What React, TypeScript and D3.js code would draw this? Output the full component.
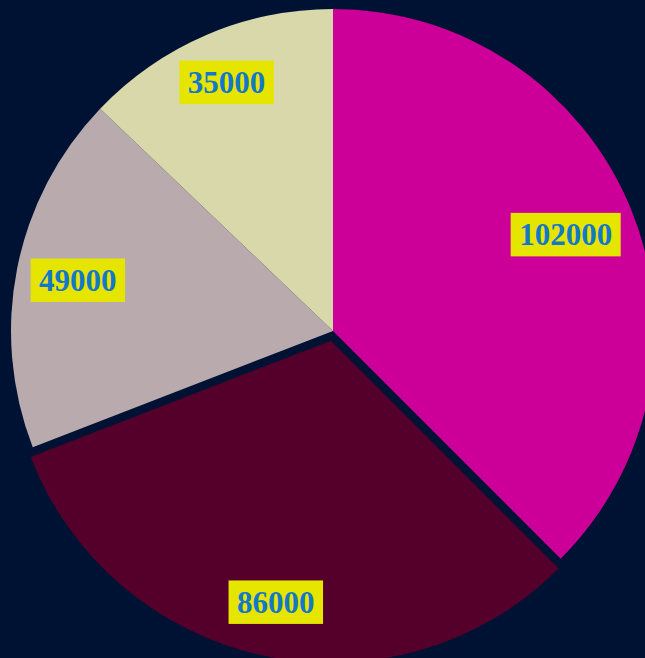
import React from "react";
import * as d3 from "d3";

const labels = ["A", "B", "C", "D"];
const values = [102000, 86000, 49000, 35000];
const colors = ["#cc0099", "#55002b", "#b9abad", "#d9d8ab"];
const exploded = [false, true, false, false];

const W = 645;
const H = 658;
const cx = 333;
const cy = 331;
const R = 322;
const labelInset = 11;
const explodeOffset = 10;

function placeLabel(ox: number, oy: number, ux: number, uy: number, bw: number, bh: number, lim: number) {
  let lo = 0;
  let hi = lim;
  for (let k = 0; k < 40; k++) {
    const t = (lo + hi) / 2;
    const px = ox + ux * t;
    const py = oy + uy * t;
    let m = 0;
    for (const sx of [-1, 1]) {
      for (const sy of [-1, 1]) {
        const d = Math.hypot(px + (sx * bw) / 2, py + (sy * bh) / 2);
        if (d > m) m = d;
      }
    }
    if (m > lim) hi = t;
    else lo = t;
  }
  return [ox + ux * lo, oy + uy * lo];
}

export default function App() {
  const pie = d3.pie<number>().sort(null).value((d) => d);
  const arcs = pie(values);
  const arcGen = d3.arc<d3.PieArcDatum<number>>().innerRadius(0).outerRadius(R);
  const fontSize = 31;
  const charW = fontSize * 0.5;
  return (
    <svg
      width={W}
      height={H}
      style={{ position: "fixed", left: 0, top: 0, display: "block", background: "#001233" }}
    >
      <rect x={0} y={0} width={W} height={H} fill="#001233" />
      <g transform={`translate(${cx},${cy})`}>
        {arcs.map((a, i) => {
          const mid = (a.startAngle + a.endAngle) / 2;
          const off = exploded[i] ? explodeOffset : 0;
          const dx = Math.sin(mid) * off;
          const dy = -Math.cos(mid) * off;
          return (
            <g key={labels[i]} transform={`translate(${dx},${dy})`}>
              <path d={arcGen(a) || ""} fill={colors[i]} />
            </g>
          );
        })}
        {arcs.map((a, i) => {
          const mid = (a.startAngle + a.endAngle) / 2;
          const off = exploded[i] ? explodeOffset : 0;
          const ux = Math.sin(mid);
          const uy = -Math.cos(mid);
          const text = String(values[i]);
          const tw = text.length * charW;
          const bw = tw + 17;
          const bh = 43.5;
          const [lx, ly] = placeLabel(ux * off, uy * off, ux, uy, bw, bh, R - labelInset);
          return (
            <g key={"l" + labels[i]} transform={`translate(${lx},${ly})`}>
              <rect x={-bw / 2} y={-bh / 2} width={bw} height={bh} fill="#e5e500" />
              <text
                x={0}
                y={0}
                dy="0.35em"
                textAnchor="middle"
                fontFamily="'Liberation Serif', 'Times New Roman', serif"
                fontWeight="bold"
                fontSize={fontSize}
                fill="#1478c8"
              >
                {text}
              </text>
            </g>
          );
        })}
      </g>
    </svg>
  );
}
